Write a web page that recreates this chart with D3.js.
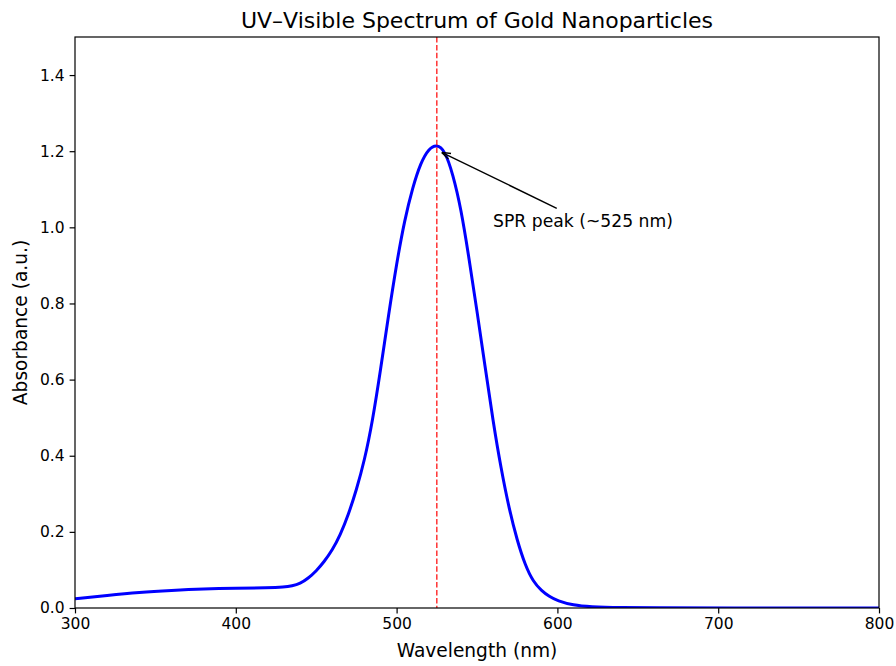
<!DOCTYPE html>
<html>
<head>
<meta charset="utf-8">
<script src="https://cdn.jsdelivr.net/npm/d3@7"></script>
<style>
  body { margin: 0; background: #fff; }
  text { font-family: "DejaVu Sans", sans-serif; fill: #000; }
</style>
</head>
<body>
<div id="chart"></div>
<script>
// values
var wavelength = [300, 320, 340, 360, 380, 400, 420, 430, 435, 440, 445, 450, 455, 460, 465, 470, 475, 480, 485, 490, 495, 500, 505, 510, 515, 520, 525,
                  530, 535, 540, 545, 550, 555, 560, 565, 570, 575, 580, 585, 590, 595, 600, 610, 620, 640, 660, 700, 800];
var absorbance = [0.024, 0.033, 0.041, 0.046, 0.050, 0.052, 0.053, 0.055, 0.058, 0.064, 0.078, 0.097, 0.122, 0.152, 0.192, 0.245, 0.31, 0.387, 0.49, 0.625, 0.77, 0.905, 1.02, 1.105, 1.17, 1.207, 1.218,
                  1.202, 1.14, 1.05, 0.92, 0.78, 0.635, 0.49, 0.365, 0.26, 0.177, 0.112, 0.069, 0.046, 0.030, 0.019, 0.007, 0.003, 0.001, 0.0005, 0.0002, 0];
var xTicks = [300, 400, 500, 600, 700, 800];
var yTicks = [0.0, 0.2, 0.4, 0.6, 0.8, 1.0, 1.2, 1.4];
var peakWavelength = 525;
var arrowFrom = [599.6, 1.05];
var arrowTo = [528, 1.197];
var labelPos = [560, 1.0];

var width = 896, height = 666;
var margin = {top: 37, right: 17, bottom: 58, left: 75};

var svg = d3.select("#chart").append("svg")
    .attr("width", width)
    .attr("height", height);

var x = d3.scaleLinear().domain([300, 800]).range([margin.left, width - margin.right]);
var y = d3.scaleLinear().domain([0, 1.5]).range([height - margin.bottom, margin.top]);

// clip so the curve stays inside the axes
svg.append("clipPath").attr("id", "plot")
    .append("rect")
    .attr("x", margin.left).attr("y", margin.top)
    .attr("width", x.range()[1] - margin.left)
    .attr("height", y.range()[0] - margin.top);

var pts = wavelength.map(function (w, i) { return [w, absorbance[i]]; });

var line = d3.line()
    .x(function (d) { return x(d[0]); })
    .y(function (d) { return y(d[1]); })
    .curve(d3.curveBasis);

svg.append("path")
    .datum(pts)
    .attr("clip-path", "url(#plot)")
    .attr("d", line)
    .attr("fill", "none")
    .attr("stroke", "#0000ff")
    .attr("stroke-width", 3);

// peak marker
svg.append("line")
    .attr("x1", x(peakWavelength)).attr("x2", x(peakWavelength))
    .attr("y1", y(1.5)).attr("y2", y(0))
    .attr("stroke", "red")
    .attr("stroke-opacity", 0.8)
    .attr("stroke-width", 1.5)
    .attr("stroke-dasharray", "5.5,2.4");

// axes
var xAxis = svg.append("g")
    .attr("transform", "translate(0," + y(0) + ")")
    .call(d3.axisBottom(x).tickValues(xTicks).tickSize(5.4).tickPadding(5).tickFormat(d3.format("d")));
var yAxis = svg.append("g")
    .attr("transform", "translate(" + x(300) + ",0)")
    .call(d3.axisLeft(y).tickValues(yTicks).tickSize(5.4).tickPadding(5).tickFormat(d3.format(".1f")));

[xAxis, yAxis].forEach(function (g) {
    g.select(".domain").remove();
    g.selectAll(".tick line").attr("stroke", "#000").attr("stroke-width", 1.2);
    g.selectAll(".tick text")
        .attr("fill", "#000")
        .style("font-family", "DejaVu Sans, sans-serif")
        .style("font-size", "15.5px");
});

svg.append("rect")
    .attr("x", x(300)).attr("y", y(1.5))
    .attr("width", x(800) - x(300))
    .attr("height", y(0) - y(1.5))
    .attr("fill", "none")
    .attr("stroke", "#000")
    .attr("stroke-width", 1.2);

// annotation
svg.append("defs").append("marker")
    .attr("id", "head")
    .attr("viewBox", "0 0 10 10")
    .attr("refX", 10).attr("refY", 5)
    .attr("markerWidth", 9).attr("markerHeight", 9)
    .attr("markerUnits", "userSpaceOnUse")
    .attr("orient", "auto")
    .append("path")
    .attr("d", "M0,1.5 L10,5 L0,8.5")
    .attr("fill", "none")
    .attr("stroke", "#000")
    .attr("stroke-width", 1.6);

svg.append("line")
    .attr("x1", x(arrowFrom[0])).attr("y1", y(arrowFrom[1]))
    .attr("x2", x(arrowTo[0])).attr("y2", y(arrowTo[1]))
    .attr("stroke", "#000")
    .attr("stroke-width", 1.4)
    .attr("marker-end", "url(#head)");

svg.append("text")
    .attr("x", x(labelPos[0]))
    .attr("y", y(labelPos[1]))
    .style("font-size", "17.2px")
    .text("SPR peak (~525 nm)");

// titles
svg.append("text")
    .attr("x", (x(300) + x(800)) / 2)
    .attr("y", 27.5)
    .attr("text-anchor", "middle")
    .style("font-size", "22px")
    .text("UV–Visible Spectrum of Gold Nanoparticles");

svg.append("text")
    .attr("x", (x(300) + x(800)) / 2)
    .attr("y", 656.5)
    .attr("text-anchor", "middle")
    .style("font-size", "18.6px")
    .text("Wavelength (nm)");

svg.append("text")
    .attr("transform", "translate(26.5," + (y(0) + y(1.5)) / 2 + ") rotate(-90)")
    .attr("text-anchor", "middle")
    .style("font-size", "18.6px")
    .text("Absorbance (a.u.)");
</script>
</body>
</html>
